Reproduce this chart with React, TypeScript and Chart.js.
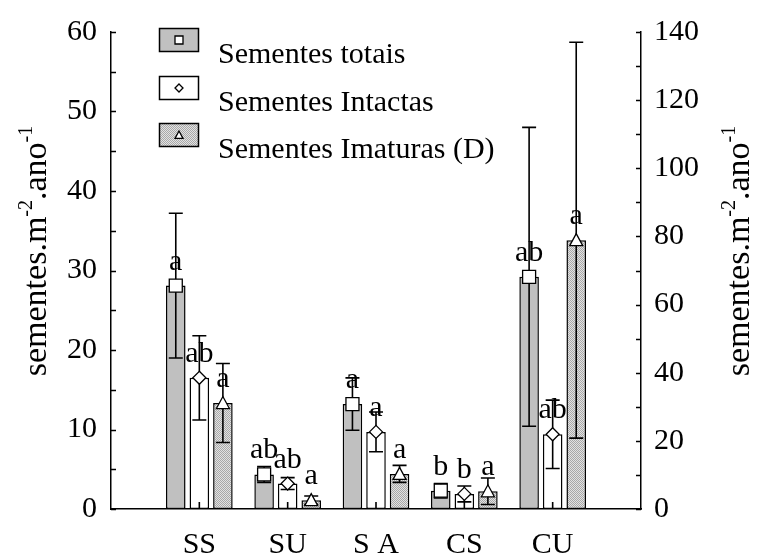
import React, { useEffect, useRef } from 'react';
import { Chart, registerables } from 'chart.js';

Chart.register(...registerables);

// ---------- data ----------
const categories = ['SS', 'SU', 'S A', 'CS', 'CU'];
const seriesNames = ['Sementes totais', 'Sementes Intactas', 'Sementes Imaturas (D)'];
// left axis (0-60)
const totais = [28.1, 4.35, 13.2, 2.3, 29.2];
const totaisErr = [9.1, 1.0, 3.3, 0.9, 18.8];
const intactas = [16.5, 3.2, 9.7, 1.9, 9.4];
const intactasErr = [5.3, 0.75, 2.5, 1.0, 4.3];
// right axis (0-140)
const imaturas = [31.1, 2.6, 10.3, 5.2, 78.9];
const imaturasErr = [11.6, 1.2, 2.5, 3.9, 58.1];
// significance letters
const totaisLetters = ['a', 'ab', 'a', 'b', 'ab'];
const intactasLetters = ['ab', 'ab', 'a', 'b', 'ab'];
const imaturasLetters = ['a', 'a', 'a', 'a', 'a'];
// axes
const leftMin = 0, leftMax = 60, leftStep = 10, leftMinorStep = 5;
const rightMin = 0, rightMax = 140, rightStep = 20, rightMinorStep = 10;

const FONT = '"Liberation Serif", "Times New Roman", serif';
const GRAY = '#c0c0c0';

const pad = <T,>(arr: T[]): (T | null)[] => [null, ...arr, null];
const labels = ['', ...categories, ''];

function makeStipple(): CanvasPattern | string {
  const c = document.createElement('canvas');
  c.width = 2; c.height = 2;
  const g = c.getContext('2d');
  if (!g) return GRAY;
  g.fillStyle = '#e2e2e2'; g.fillRect(0, 0, 2, 2);
  g.fillStyle = '#a8a8a8'; g.fillRect(0, 0, 1, 1); g.fillRect(1, 1, 1, 1);
  const p = g.createPattern(c, 'repeat');
  return p || GRAY;
}

type MarkerKind = 'square' | 'diamond' | 'triangle';

function drawMarker(ctx: CanvasRenderingContext2D, kind: MarkerKind, x: number, y: number, s: number) {
  ctx.save();
  ctx.fillStyle = '#fff';
  ctx.strokeStyle = '#000';
  ctx.lineWidth = 1.3;
  ctx.beginPath();
  if (kind === 'square') {
    ctx.rect(x - s, y - s, 2 * s, 2 * s);
  } else if (kind === 'diamond') {
    ctx.moveTo(x, y - s); ctx.lineTo(x + s, y); ctx.lineTo(x, y + s); ctx.lineTo(x - s, y); ctx.closePath();
  } else {
    ctx.moveTo(x, y - s); ctx.lineTo(x + s, y + s * 0.85); ctx.lineTo(x - s, y + s * 0.85); ctx.closePath();
  }
  ctx.fill();
  ctx.stroke();
  ctx.restore();
}

function drawTitle(ctx: CanvasRenderingContext2D, baseX: number, cy: number) {
  const parts = [
    { t: 'sementes.m', sup: false },
    { t: '-2', sup: true },
    { t: '.ano', sup: false },
    { t: '-1', sup: true },
  ];
  const main = `34px ${FONT}`;
  const small = `20px ${FONT}`;
  ctx.save();
  let total = 0;
  const widths = parts.map((p) => {
    ctx.font = p.sup ? small : main;
    const w = ctx.measureText(p.t).width;
    total += w;
    return w;
  });
  ctx.translate(baseX, cy);
  ctx.rotate(-Math.PI / 2);
  ctx.fillStyle = '#000';
  ctx.textBaseline = 'alphabetic';
  ctx.textAlign = 'left';
  let x = -total / 2;
  parts.forEach((p, i) => {
    ctx.font = p.sup ? small : main;
    ctx.fillText(p.t, x, p.sup ? -14 : 0);
    x += widths[i];
  });
  ctx.restore();
}

export default function App() {
  const ref = useRef<HTMLCanvasElement | null>(null);

  useEffect(() => {
    const canvas = ref.current;
    if (!canvas) return;
    const stipple = makeStipple();

    const specs: { err: (number | null)[]; letters: (string | null)[]; marker: MarkerKind; size: number; baseTick: boolean }[] = [
      { err: pad(totaisErr), letters: pad(totaisLetters), marker: 'square', size: 6.5, baseTick: false },
      { err: pad(intactasErr), letters: pad(intactasLetters), marker: 'diamond', size: 6.5, baseTick: true },
      { err: pad(imaturasErr), letters: pad(imaturasLetters), marker: 'triangle', size: 6.5, baseTick: false },
    ];

    const overlay = {
      id: 'overlay',
      afterDatasetsDraw(chart: any) {
        const ctx: CanvasRenderingContext2D = chart.ctx;
        const area = chart.chartArea;
        chart.data.datasets.forEach((ds: any, di: number) => {
          const meta = chart.getDatasetMeta(di);
          const scale = chart.scales[ds.yAxisID];
          const spec = specs[di];
          meta.data.forEach((bar: any, i: number) => {
            const v = ds.data[i];
            if (v == null) return;
            const e = spec.err[i] as number;
            const x = bar.x;
            const yHi = scale.getPixelForValue(v + e);
            const yLo = scale.getPixelForValue(Math.max(v - e, 0));
            ctx.save();
            ctx.strokeStyle = '#000';
            ctx.lineWidth = 1.6;
            ctx.beginPath();
            ctx.moveTo(x, yHi); ctx.lineTo(x, yLo);
            ctx.moveTo(x - 7, yHi); ctx.lineTo(x + 7, yHi);
            ctx.moveTo(x - 7, yLo); ctx.lineTo(x + 7, yLo);
            if (spec.baseTick) {
              ctx.moveTo(x, area.bottom); ctx.lineTo(x, area.bottom - 7);
            }
            ctx.stroke();
            ctx.restore();
          });
        });
        chart.data.datasets.forEach((ds: any, di: number) => {
          const meta = chart.getDatasetMeta(di);
          const spec = specs[di];
          meta.data.forEach((bar: any, i: number) => {
            if (ds.data[i] == null) return;
            drawMarker(ctx, spec.marker, bar.x, bar.y, spec.size);
          });
        });
        chart.data.datasets.forEach((ds: any, di: number) => {
          const meta = chart.getDatasetMeta(di);
          const spec = specs[di];
          meta.data.forEach((bar: any, i: number) => {
            const letter = spec.letters[i];
            if (ds.data[i] == null || !letter) return;
            ctx.save();
            ctx.font = `30px ${FONT}`;
            ctx.fillStyle = '#000';
            ctx.textAlign = 'center';
            ctx.textBaseline = 'alphabetic';
            ctx.fillText(letter, bar.x, bar.y - 16);
            ctx.restore();
          });
        });
      },
      afterDraw(chart: any) {
        const ctx: CanvasRenderingContext2D = chart.ctx;
        const yL = chart.scales.y;
        const yR = chart.scales.y2;
        const area = chart.chartArea;
        ctx.save();
        ctx.strokeStyle = '#000';
        ctx.lineWidth = 1.5;
        ctx.beginPath();
        for (let v = leftMin; v <= leftMax; v += leftMinorStep) {
          const y = Math.round(yL.getPixelForValue(v)) + 0.5;
          ctx.moveTo(area.left, y); ctx.lineTo(area.left + 5, y);
        }
        for (let v = rightMin; v <= rightMax; v += rightMinorStep) {
          const y = Math.round(yR.getPixelForValue(v)) + 0.5;
          ctx.moveTo(area.right, y); ctx.lineTo(area.right - 5, y);
        }
        ctx.stroke();
        ctx.restore();

        // axis titles
        const cy = 251;
        drawTitle(ctx, 46, cy);
        drawTitle(ctx, 749, cy);

        // legend
        const lx = 159, bw = 40, bh = 24;
        const boxTops = [28, 76, 123];
        const fills: (string | CanvasPattern)[] = [GRAY, '#ffffff', stipple];
        const kinds: MarkerKind[] = ['square', 'diamond', 'triangle'];
        chart.data.datasets.forEach((ds: any, di: number) => {
          const top = boxTops[di];
          ctx.save();
          ctx.fillStyle = fills[di] as any;
          ctx.fillRect(lx, top, bw, bh);
          ctx.strokeStyle = '#000';
          ctx.lineWidth = 1.5;
          ctx.strokeRect(lx + 0.5, top + 0.5, bw - 1, bh - 1);
          ctx.restore();
          drawMarker(ctx, kinds[di], lx + bw / 2, top + bh / 2, 4);
          ctx.save();
          ctx.font = `30px ${FONT}`;
          ctx.fillStyle = '#000';
          ctx.textAlign = 'left';
          ctx.textBaseline = 'alphabetic';
          ctx.fillText(ds.label, 218, top + 35);
          ctx.restore();
        });
      },
    };

    const tickFont = { family: FONT, size: 30 };
    const chart = new Chart(canvas, {
      type: 'bar',
      data: {
        labels,
        datasets: [
          { label: seriesNames[0], data: pad(totais), yAxisID: 'y', backgroundColor: GRAY, borderColor: '#000', borderWidth: 1.5, borderSkipped: false },
          { label: seriesNames[1], data: pad(intactas), yAxisID: 'y', backgroundColor: '#ffffff', borderColor: '#000', borderWidth: 1.5, borderSkipped: false },
          { label: seriesNames[2], data: pad(imaturas), yAxisID: 'y2', backgroundColor: stipple as any, borderColor: '#000', borderWidth: 1.5, borderSkipped: false },
        ],
      },
      options: {
        responsive: false,
        animation: false,
        devicePixelRatio: 1,
        categoryPercentage: 0.8,
        barPercentage: 0.83,
        layout: { padding: { top: 22, left: 0, right: 0, bottom: 0 } },
        plugins: { legend: { display: false }, tooltip: { enabled: false } },
        scales: {
          x: {
            type: 'category',
            offset: false,
            grid: { display: false, drawTicks: false, offset: false },
            border: { display: true, color: '#000', width: 1.5 },
            ticks: { autoSkip: false, maxRotation: 0, minRotation: 0, padding: 18, color: '#000', font: tickFont },
            afterFit: (s: any) => { s.height = 49; },
          },
          y: {
            position: 'left',
            min: leftMin,
            max: leftMax,
            grid: { display: false, drawTicks: false },
            border: { display: true, color: '#000', width: 1.5 },
            ticks: { stepSize: leftStep, padding: 14, color: '#000', font: tickFont },
            afterFit: (s: any) => { s.width = 111; },
          },
          y2: {
            position: 'right',
            min: rightMin,
            max: rightMax,
            grid: { display: false, drawTicks: false },
            border: { display: true, color: '#000', width: 1.5 },
            ticks: { stepSize: rightStep, padding: 13, color: '#000', font: tickFont },
            afterFit: (s: any) => { s.width = 117; },
          },
        },
      } as any,
      plugins: [overlay],
    });
    return () => chart.destroy();
  }, []);

  return (
    <div style={{ position: 'absolute', left: 0, top: 0, width: 758, height: 558, background: '#fff' }}>
      <canvas ref={ref} width={758} height={558} style={{ display: 'block', width: 758, height: 558 }} />
    </div>
  );
}
